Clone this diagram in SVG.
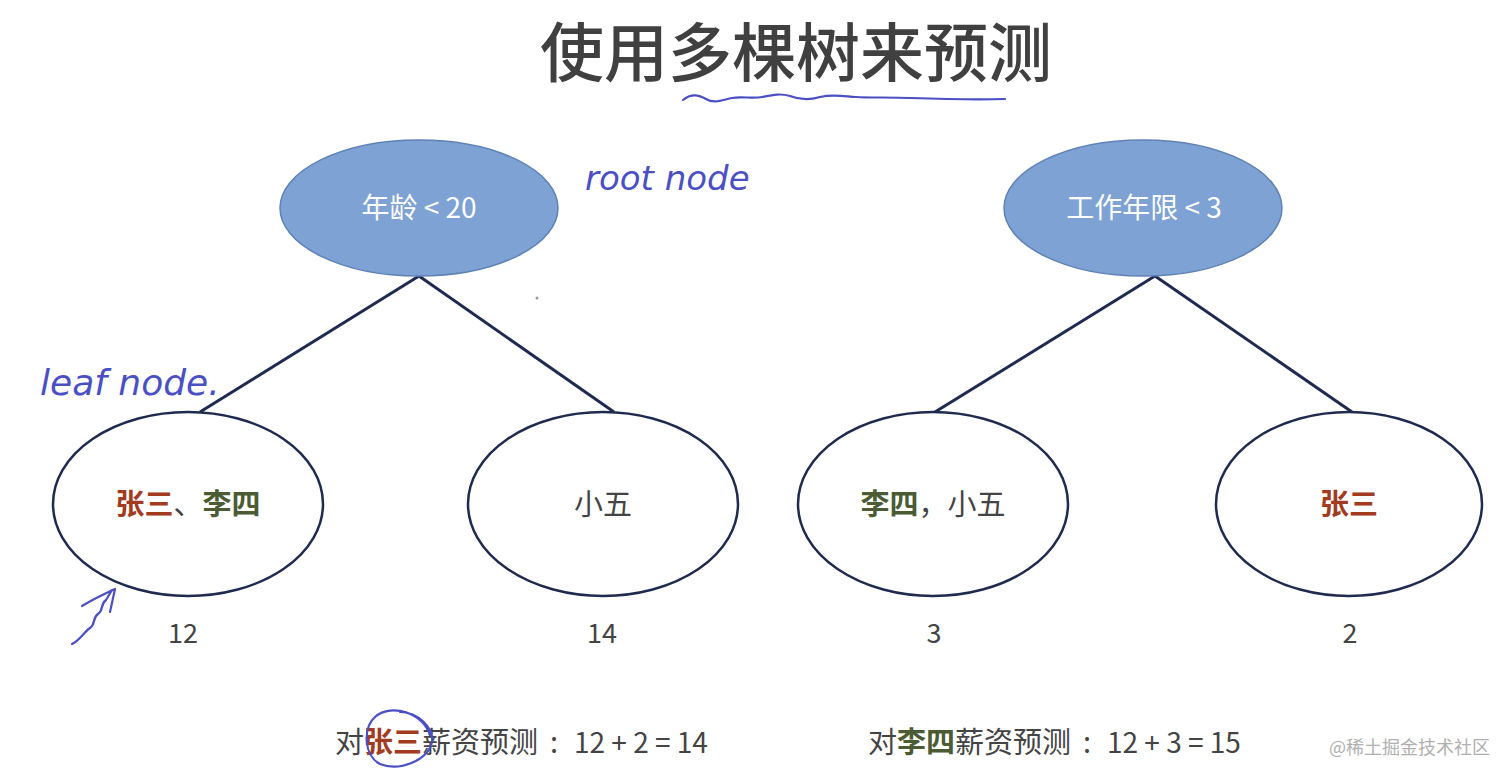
<svg xmlns="http://www.w3.org/2000/svg" width="1512" height="782" viewBox="0 0 1512 782">
<style>
.t{font-family:"Noto Sans CJK SC","Liberation Sans",sans-serif;}
.root{fill:#7da2d3;stroke:#5f82b6;stroke-width:1.5}
.leaf{fill:#ffffff;stroke:#1f2a4f;stroke-width:2.5}
.edge{stroke:#1f2a4f;stroke-width:3;fill:none}
.ink{fill:none;stroke:#4b4fc4;stroke-width:2.2;stroke-linecap:round;stroke-linejoin:round}
.hand{font-family:"DejaVu Sans","Liberation Sans",sans-serif;fill:#4b4fc4;font-style:italic;font-weight:300}
.gray{fill:#444444}
.red{fill:#a23b20;font-weight:bold}
.green{fill:#4b5b34;font-weight:bold}
</style>
<rect width="1512" height="782" fill="#ffffff"/>
<text class="t" x="796" y="76" font-size="64" font-weight="500" fill="#404040" text-anchor="middle">使用多棵树来预测</text>
<path class="ink" d="M683,100 C690,94 698,94 706,99 C714,104 722,100 732,98 C742,96 752,99 762,97 C772,95 780,93 790,96 C800,100 810,100 820,97 C832,94 842,96 856,97 C870,98 890,97 910,98 C940,99 970,100 1005,99"/>

<g id="connectors">
<line class="edge" x1="419" y1="276" x2="200" y2="412"/>
<line class="edge" x1="419" y1="276" x2="614" y2="412"/>
<line class="edge" x1="1155" y1="276" x2="935" y2="412"/>
<line class="edge" x1="1155" y1="276" x2="1352" y2="412"/>
</g>

<g id="root1">
<ellipse class="root" cx="419" cy="208" rx="139" ry="68"/>
<text class="t" x="419" y="218" font-size="28" fill="#ffffff" text-anchor="middle">年龄  &lt; 20</text>
</g>
<g id="root2">
<ellipse class="root" cx="1143" cy="208" rx="139" ry="68"/>
<text class="t" x="1144" y="218" font-size="28" fill="#ffffff" text-anchor="middle">工作年限 &lt; 3</text>
</g>

<g id="leaf1">
<ellipse class="leaf" cx="188" cy="504" rx="135" ry="92"/>
<text class="t" x="188" y="515" font-size="29" text-anchor="middle"><tspan class="red">张三</tspan><tspan class="gray">、</tspan><tspan class="green">李四</tspan></text>
</g>
<g id="leaf2">
<ellipse class="leaf" cx="603" cy="504" rx="135" ry="92"/>
<text class="t gray" x="603" y="515" font-size="29" text-anchor="middle">小五</text>
</g>
<g id="leaf3">
<ellipse class="leaf" cx="933" cy="504" rx="135" ry="92"/>
<text class="t" x="933" y="515" font-size="29" text-anchor="middle"><tspan class="green">李四</tspan><tspan class="gray">，小五</tspan></text>
</g>
<g id="leaf4">
<ellipse class="leaf" cx="1349" cy="504" rx="133" ry="92"/>
<text class="t red" x="1349" y="515" font-size="29" text-anchor="middle">张三</text>
</g>

<g id="values" class="t gray" font-size="27" text-anchor="middle">
<text x="183" y="643">12</text>
<text x="602" y="643">14</text>
<text x="934" y="643">3</text>
<text x="1350" y="643">2</text>
</g>

<g id="predictions" class="t" font-size="29">
<text x="335" y="753"><tspan class="gray">对</tspan><tspan class="red" font-weight="normal">张三</tspan><tspan class="gray">薪资预测</tspan><tspan class="gray" x="550">:</tspan><tspan class="gray" x="574" font-size="28">12 + 2 = 14</tspan></text>
<text x="868" y="753"><tspan class="gray">对</tspan><tspan class="green" font-weight="normal">李四</tspan><tspan class="gray">薪资预测</tspan><tspan class="gray" x="1083">:</tspan><tspan class="gray" x="1107" font-size="28">12 + 3 = 15</tspan></text>
</g>

<g id="annotations">
<text class="hand" x="585" y="190" font-size="34">root node</text>
<text class="hand" x="40" y="395" font-size="36">leaf node.</text>
<path class="ink" d="M72,644 C80,640 84,632 90,628 C96,624 92,618 98,614 C104,610 100,604 106,600 L112,590 M82,606 C92,600 104,594 115,589 L110,612"/>
<path class="ink" d="M430,735 C422,712 392,704 376,716 C362,728 364,756 380,764 C400,772 428,760 432,742 C434,728 418,712 400,712"/>
<circle cx="537" cy="298" r="1.5" fill="#999999"/>
</g>

<text class="t" x="1490" y="754" font-size="18" fill="#b0b0b0" text-anchor="end">@稀土掘金技术社区</text>
</svg>
